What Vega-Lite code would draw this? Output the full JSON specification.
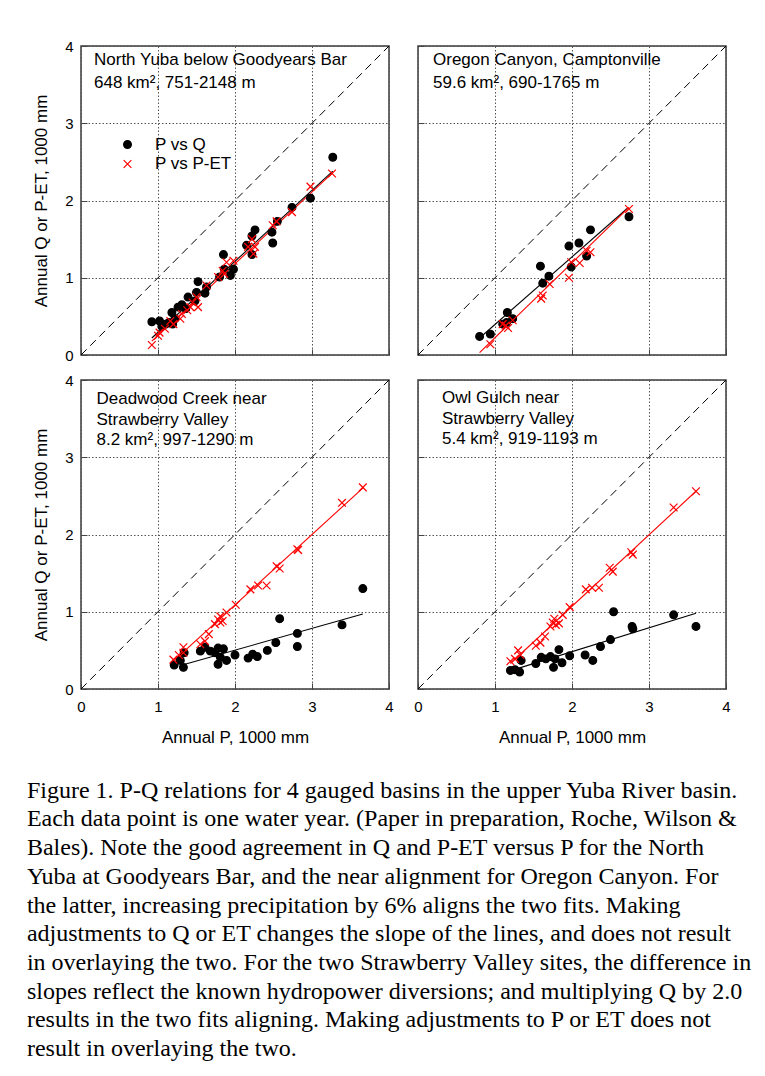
{
  "$schema": "https://vega.github.io/schema/vega-lite/v6.json",
  "background": "white",
  "padding": {"left": 26, "top": 38, "right": 5, "bottom": 0},
  "autosize": {"type": "pad"},
  "datasets": {
    "diag": [{"P": 0, "V": 0}, {"P": 4, "V": 4}],
    "fits": [
      {"site": "NY", "series": "P vs Q", "P": 0.92, "V": 0.22},
      {"site": "NY", "series": "P vs Q", "P": 3.27, "V": 2.38},
      {"site": "NY", "series": "P vs P-ET", "P": 0.92, "V": 0.18},
      {"site": "NY", "series": "P vs P-ET", "P": 3.27, "V": 2.36},
      {"site": "OC", "series": "P vs Q", "P": 0.80, "V": 0.22},
      {"site": "OC", "series": "P vs Q", "P": 2.72, "V": 1.90},
      {"site": "OC", "series": "P vs P-ET", "P": 0.80, "V": 0.03},
      {"site": "OC", "series": "P vs P-ET", "P": 2.74, "V": 1.91},
      {"site": "DC", "series": "P vs Q", "P": 1.35, "V": 0.32},
      {"site": "DC", "series": "P vs Q", "P": 3.66, "V": 0.97},
      {"site": "DC", "series": "P vs P-ET", "P": 1.20, "V": 0.36},
      {"site": "DC", "series": "P vs P-ET", "P": 3.67, "V": 2.61},
      {"site": "OG", "series": "P vs Q", "P": 1.31, "V": 0.27},
      {"site": "OG", "series": "P vs Q", "P": 3.61, "V": 0.98},
      {"site": "OG", "series": "P vs P-ET", "P": 1.20, "V": 0.33},
      {"site": "OG", "series": "P vs P-ET", "P": 3.61, "V": 2.56}
    ],
    "pts": [
      {"site": "NY", "series": "P vs Q", "P": 0.92, "V": 0.43},
      {"site": "NY", "series": "P vs Q", "P": 1.02, "V": 0.44},
      {"site": "NY", "series": "P vs Q", "P": 1.05, "V": 0.37},
      {"site": "NY", "series": "P vs Q", "P": 1.10, "V": 0.40},
      {"site": "NY", "series": "P vs Q", "P": 1.14, "V": 0.42},
      {"site": "NY", "series": "P vs Q", "P": 1.18, "V": 0.55},
      {"site": "NY", "series": "P vs Q", "P": 1.19, "V": 0.40},
      {"site": "NY", "series": "P vs Q", "P": 1.22, "V": 0.47},
      {"site": "NY", "series": "P vs Q", "P": 1.26, "V": 0.62},
      {"site": "NY", "series": "P vs Q", "P": 1.31, "V": 0.65},
      {"site": "NY", "series": "P vs Q", "P": 1.36, "V": 0.60},
      {"site": "NY", "series": "P vs Q", "P": 1.39, "V": 0.75},
      {"site": "NY", "series": "P vs Q", "P": 1.48, "V": 0.70},
      {"site": "NY", "series": "P vs Q", "P": 1.50, "V": 0.81},
      {"site": "NY", "series": "P vs Q", "P": 1.52, "V": 0.95},
      {"site": "NY", "series": "P vs Q", "P": 1.61, "V": 0.80},
      {"site": "NY", "series": "P vs Q", "P": 1.63, "V": 0.88},
      {"site": "NY", "series": "P vs Q", "P": 1.80, "V": 1.01},
      {"site": "NY", "series": "P vs Q", "P": 1.85, "V": 1.30},
      {"site": "NY", "series": "P vs Q", "P": 1.86, "V": 1.11},
      {"site": "NY", "series": "P vs Q", "P": 1.94, "V": 1.03},
      {"site": "NY", "series": "P vs Q", "P": 1.98, "V": 1.11},
      {"site": "NY", "series": "P vs Q", "P": 2.15, "V": 1.42},
      {"site": "NY", "series": "P vs Q", "P": 2.22, "V": 1.54},
      {"site": "NY", "series": "P vs Q", "P": 2.26, "V": 1.62},
      {"site": "NY", "series": "P vs Q", "P": 2.22, "V": 1.30},
      {"site": "NY", "series": "P vs Q", "P": 2.48, "V": 1.59},
      {"site": "NY", "series": "P vs Q", "P": 2.49, "V": 1.45},
      {"site": "NY", "series": "P vs Q", "P": 2.55, "V": 1.73},
      {"site": "NY", "series": "P vs Q", "P": 2.74, "V": 1.91},
      {"site": "NY", "series": "P vs Q", "P": 2.98, "V": 2.03},
      {"site": "NY", "series": "P vs Q", "P": 3.27, "V": 2.56},
      {"site": "NY", "series": "P vs P-ET", "P": 0.92, "V": 0.13},
      {"site": "NY", "series": "P vs P-ET", "P": 1.00, "V": 0.25},
      {"site": "NY", "series": "P vs P-ET", "P": 1.02, "V": 0.29},
      {"site": "NY", "series": "P vs P-ET", "P": 1.09, "V": 0.34},
      {"site": "NY", "series": "P vs P-ET", "P": 1.16, "V": 0.44},
      {"site": "NY", "series": "P vs P-ET", "P": 1.20, "V": 0.40},
      {"site": "NY", "series": "P vs P-ET", "P": 1.29, "V": 0.47},
      {"site": "NY", "series": "P vs P-ET", "P": 1.31, "V": 0.53},
      {"site": "NY", "series": "P vs P-ET", "P": 1.38, "V": 0.58},
      {"site": "NY", "series": "P vs P-ET", "P": 1.42, "V": 0.62},
      {"site": "NY", "series": "P vs P-ET", "P": 1.45, "V": 0.68},
      {"site": "NY", "series": "P vs P-ET", "P": 1.52, "V": 0.62},
      {"site": "NY", "series": "P vs P-ET", "P": 1.50, "V": 0.75},
      {"site": "NY", "series": "P vs P-ET", "P": 1.63, "V": 0.90},
      {"site": "NY", "series": "P vs P-ET", "P": 1.78, "V": 1.01},
      {"site": "NY", "series": "P vs P-ET", "P": 1.84, "V": 1.09},
      {"site": "NY", "series": "P vs P-ET", "P": 1.86, "V": 1.05},
      {"site": "NY", "series": "P vs P-ET", "P": 1.89, "V": 1.20},
      {"site": "NY", "series": "P vs P-ET", "P": 1.98, "V": 1.22},
      {"site": "NY", "series": "P vs P-ET", "P": 2.17, "V": 1.40},
      {"site": "NY", "series": "P vs P-ET", "P": 2.22, "V": 1.50},
      {"site": "NY", "series": "P vs P-ET", "P": 2.24, "V": 1.31},
      {"site": "NY", "series": "P vs P-ET", "P": 2.26, "V": 1.40},
      {"site": "NY", "series": "P vs P-ET", "P": 2.49, "V": 1.68},
      {"site": "NY", "series": "P vs P-ET", "P": 2.54, "V": 1.73},
      {"site": "NY", "series": "P vs P-ET", "P": 2.74, "V": 1.85},
      {"site": "NY", "series": "P vs P-ET", "P": 2.98, "V": 2.18},
      {"site": "NY", "series": "P vs P-ET", "P": 3.26, "V": 2.35},
      {"site": "OC", "series": "P vs Q", "P": 0.80, "V": 0.24},
      {"site": "OC", "series": "P vs Q", "P": 0.94, "V": 0.27},
      {"site": "OC", "series": "P vs Q", "P": 1.10, "V": 0.40},
      {"site": "OC", "series": "P vs Q", "P": 1.15, "V": 0.42},
      {"site": "OC", "series": "P vs Q", "P": 1.16, "V": 0.55},
      {"site": "OC", "series": "P vs Q", "P": 1.23, "V": 0.47},
      {"site": "OC", "series": "P vs Q", "P": 1.59, "V": 1.15},
      {"site": "OC", "series": "P vs Q", "P": 1.62, "V": 0.93},
      {"site": "OC", "series": "P vs Q", "P": 1.70, "V": 1.02},
      {"site": "OC", "series": "P vs Q", "P": 1.96, "V": 1.41},
      {"site": "OC", "series": "P vs Q", "P": 1.99, "V": 1.14},
      {"site": "OC", "series": "P vs Q", "P": 2.09, "V": 1.45},
      {"site": "OC", "series": "P vs Q", "P": 2.19, "V": 1.28},
      {"site": "OC", "series": "P vs Q", "P": 2.24, "V": 1.62},
      {"site": "OC", "series": "P vs Q", "P": 2.74, "V": 1.79},
      {"site": "OC", "series": "P vs P-ET", "P": 0.94, "V": 0.14},
      {"site": "OC", "series": "P vs P-ET", "P": 1.10, "V": 0.40},
      {"site": "OC", "series": "P vs P-ET", "P": 1.14, "V": 0.38},
      {"site": "OC", "series": "P vs P-ET", "P": 1.17, "V": 0.35},
      {"site": "OC", "series": "P vs P-ET", "P": 1.23, "V": 0.45},
      {"site": "OC", "series": "P vs P-ET", "P": 1.60, "V": 0.73},
      {"site": "OC", "series": "P vs P-ET", "P": 1.62, "V": 0.77},
      {"site": "OC", "series": "P vs P-ET", "P": 1.71, "V": 0.92},
      {"site": "OC", "series": "P vs P-ET", "P": 1.96, "V": 1.00},
      {"site": "OC", "series": "P vs P-ET", "P": 1.99, "V": 1.20},
      {"site": "OC", "series": "P vs P-ET", "P": 2.10, "V": 1.19},
      {"site": "OC", "series": "P vs P-ET", "P": 2.19, "V": 1.35},
      {"site": "OC", "series": "P vs P-ET", "P": 2.24, "V": 1.33},
      {"site": "OC", "series": "P vs P-ET", "P": 2.74, "V": 1.89},
      {"site": "DC", "series": "P vs Q", "P": 1.21, "V": 0.31},
      {"site": "DC", "series": "P vs Q", "P": 1.29, "V": 0.37},
      {"site": "DC", "series": "P vs Q", "P": 1.33, "V": 0.28},
      {"site": "DC", "series": "P vs Q", "P": 1.34, "V": 0.47},
      {"site": "DC", "series": "P vs Q", "P": 1.55, "V": 0.49},
      {"site": "DC", "series": "P vs Q", "P": 1.61, "V": 0.54},
      {"site": "DC", "series": "P vs Q", "P": 1.68, "V": 0.49},
      {"site": "DC", "series": "P vs Q", "P": 1.74, "V": 0.47},
      {"site": "DC", "series": "P vs Q", "P": 1.78, "V": 0.53},
      {"site": "DC", "series": "P vs Q", "P": 1.78, "V": 0.32},
      {"site": "DC", "series": "P vs Q", "P": 1.81, "V": 0.41},
      {"site": "DC", "series": "P vs Q", "P": 1.85, "V": 0.52},
      {"site": "DC", "series": "P vs Q", "P": 1.89, "V": 0.37},
      {"site": "DC", "series": "P vs Q", "P": 2.00, "V": 0.44},
      {"site": "DC", "series": "P vs Q", "P": 2.17, "V": 0.40},
      {"site": "DC", "series": "P vs Q", "P": 2.23, "V": 0.45},
      {"site": "DC", "series": "P vs Q", "P": 2.29, "V": 0.42},
      {"site": "DC", "series": "P vs Q", "P": 2.42, "V": 0.50},
      {"site": "DC", "series": "P vs Q", "P": 2.53, "V": 0.60},
      {"site": "DC", "series": "P vs Q", "P": 2.58, "V": 0.91},
      {"site": "DC", "series": "P vs Q", "P": 2.81, "V": 0.72},
      {"site": "DC", "series": "P vs Q", "P": 2.81, "V": 0.55},
      {"site": "DC", "series": "P vs Q", "P": 3.39, "V": 0.83},
      {"site": "DC", "series": "P vs Q", "P": 3.66, "V": 1.30},
      {"site": "DC", "series": "P vs P-ET", "P": 1.20, "V": 0.38},
      {"site": "DC", "series": "P vs P-ET", "P": 1.27, "V": 0.44},
      {"site": "DC", "series": "P vs P-ET", "P": 1.33, "V": 0.54},
      {"site": "DC", "series": "P vs P-ET", "P": 1.33, "V": 0.47},
      {"site": "DC", "series": "P vs P-ET", "P": 1.55, "V": 0.58},
      {"site": "DC", "series": "P vs P-ET", "P": 1.61, "V": 0.62},
      {"site": "DC", "series": "P vs P-ET", "P": 1.66, "V": 0.71},
      {"site": "DC", "series": "P vs P-ET", "P": 1.74, "V": 0.84},
      {"site": "DC", "series": "P vs P-ET", "P": 1.78, "V": 0.90},
      {"site": "DC", "series": "P vs P-ET", "P": 1.81, "V": 0.94},
      {"site": "DC", "series": "P vs P-ET", "P": 1.81, "V": 0.86},
      {"site": "DC", "series": "P vs P-ET", "P": 1.84, "V": 0.88},
      {"site": "DC", "series": "P vs P-ET", "P": 1.89, "V": 0.99},
      {"site": "DC", "series": "P vs P-ET", "P": 2.01, "V": 1.09},
      {"site": "DC", "series": "P vs P-ET", "P": 2.20, "V": 1.29},
      {"site": "DC", "series": "P vs P-ET", "P": 2.30, "V": 1.34},
      {"site": "DC", "series": "P vs P-ET", "P": 2.41, "V": 1.34},
      {"site": "DC", "series": "P vs P-ET", "P": 2.54, "V": 1.59},
      {"site": "DC", "series": "P vs P-ET", "P": 2.58, "V": 1.56},
      {"site": "DC", "series": "P vs P-ET", "P": 2.81, "V": 1.81},
      {"site": "DC", "series": "P vs P-ET", "P": 2.82, "V": 1.80},
      {"site": "DC", "series": "P vs P-ET", "P": 3.39, "V": 2.41},
      {"site": "DC", "series": "P vs P-ET", "P": 3.66, "V": 2.61},
      {"site": "OG", "series": "P vs Q", "P": 1.20, "V": 0.24},
      {"site": "OG", "series": "P vs Q", "P": 1.26, "V": 0.25},
      {"site": "OG", "series": "P vs Q", "P": 1.32, "V": 0.22},
      {"site": "OG", "series": "P vs Q", "P": 1.34, "V": 0.37},
      {"site": "OG", "series": "P vs Q", "P": 1.53, "V": 0.33},
      {"site": "OG", "series": "P vs Q", "P": 1.60, "V": 0.41},
      {"site": "OG", "series": "P vs Q", "P": 1.66, "V": 0.39},
      {"site": "OG", "series": "P vs Q", "P": 1.72, "V": 0.42},
      {"site": "OG", "series": "P vs Q", "P": 1.76, "V": 0.28},
      {"site": "OG", "series": "P vs Q", "P": 1.78, "V": 0.39},
      {"site": "OG", "series": "P vs Q", "P": 1.83, "V": 0.51},
      {"site": "OG", "series": "P vs Q", "P": 1.87, "V": 0.34},
      {"site": "OG", "series": "P vs Q", "P": 1.97, "V": 0.43},
      {"site": "OG", "series": "P vs Q", "P": 2.17, "V": 0.44},
      {"site": "OG", "series": "P vs Q", "P": 2.27, "V": 0.37},
      {"site": "OG", "series": "P vs Q", "P": 2.37, "V": 0.55},
      {"site": "OG", "series": "P vs Q", "P": 2.50, "V": 0.64},
      {"site": "OG", "series": "P vs Q", "P": 2.54, "V": 1.00},
      {"site": "OG", "series": "P vs Q", "P": 2.78, "V": 0.81},
      {"site": "OG", "series": "P vs Q", "P": 2.79, "V": 0.78},
      {"site": "OG", "series": "P vs Q", "P": 3.32, "V": 0.96},
      {"site": "OG", "series": "P vs Q", "P": 3.61, "V": 0.81},
      {"site": "OG", "series": "P vs P-ET", "P": 1.20, "V": 0.36},
      {"site": "OG", "series": "P vs P-ET", "P": 1.26, "V": 0.39},
      {"site": "OG", "series": "P vs P-ET", "P": 1.30, "V": 0.50},
      {"site": "OG", "series": "P vs P-ET", "P": 1.33, "V": 0.44},
      {"site": "OG", "series": "P vs P-ET", "P": 1.53, "V": 0.56},
      {"site": "OG", "series": "P vs P-ET", "P": 1.59, "V": 0.60},
      {"site": "OG", "series": "P vs P-ET", "P": 1.65, "V": 0.68},
      {"site": "OG", "series": "P vs P-ET", "P": 1.72, "V": 0.81},
      {"site": "OG", "series": "P vs P-ET", "P": 1.75, "V": 0.86},
      {"site": "OG", "series": "P vs P-ET", "P": 1.77, "V": 0.91},
      {"site": "OG", "series": "P vs P-ET", "P": 1.79, "V": 0.83},
      {"site": "OG", "series": "P vs P-ET", "P": 1.83, "V": 0.85},
      {"site": "OG", "series": "P vs P-ET", "P": 1.88, "V": 0.96},
      {"site": "OG", "series": "P vs P-ET", "P": 1.97, "V": 1.06},
      {"site": "OG", "series": "P vs P-ET", "P": 2.18, "V": 1.29},
      {"site": "OG", "series": "P vs P-ET", "P": 2.26, "V": 1.31},
      {"site": "OG", "series": "P vs P-ET", "P": 2.35, "V": 1.31},
      {"site": "OG", "series": "P vs P-ET", "P": 2.49, "V": 1.57},
      {"site": "OG", "series": "P vs P-ET", "P": 2.53, "V": 1.52},
      {"site": "OG", "series": "P vs P-ET", "P": 2.77, "V": 1.77},
      {"site": "OG", "series": "P vs P-ET", "P": 2.79, "V": 1.74},
      {"site": "OG", "series": "P vs P-ET", "P": 3.32, "V": 2.35},
      {"site": "OG", "series": "P vs P-ET", "P": 3.61, "V": 2.56}
    ]
  },
  "title": {
    "text": [
      "Figure 1. P-Q relations for 4 gauged basins in the upper Yuba River basin.",
      "Each data point is one water year. (Paper in preparation, Roche, Wilson &",
      "Bales). Note the good agreement in Q and P-ET versus P for the North",
      "Yuba at Goodyears Bar, and the near alignment for Oregon Canyon. For",
      "the latter, increasing precipitation by 6% aligns the two fits. Making",
      "adjustments to Q or ET changes the slope of the lines, and does not result",
      "in overlaying the two. For the two Strawberry Valley sites, the difference in",
      "slopes reflect the known hydropower diversions; and multiplying Q by 2.0",
      "results in the two fits aligning. Making adjustments to P or ET does not",
      "result in overlaying the two."
    ],
    "orient": "bottom",
    "anchor": "start",
    "frame": "bounds",
    "offset": 33,
    "dx": -5,
    "baseline": "top",
    "font": "Liberation Serif",
    "fontSize": 24,
    "fontWeight": "normal",
    "lineHeight": 28.7,
    "color": "black",
    "limit": 0
  },
  "columns": 2,
  "spacing": {"row": 25, "column": 29},
  "bounds": "flush",
  "resolve": {
    "scale": {"fill": "independent", "stroke": "independent", "shape": "independent"},
    "legend": {"fill": "independent", "stroke": "independent", "shape": "independent"}
  },
  "concat": [
    {
      "width": 308, "height": 309,
      "title": {"text": ["North Yuba below Goodyears Bar", "648 km², 751-2148 m"], "dx": 13, "offset": -53, "lineHeight": 22.7},
      "encoding": {
        "x": {"field": "P", "type": "quantitative", "scale": {"domain": [0, 4], "nice": false}, "axis": {"values": [0, 1, 2, 3, 4], "labels": false, "title": null}},
        "y": {"field": "V", "type": "quantitative", "scale": {"domain": [0, 4], "nice": false}, "axis": {"values": [0, 1, 2, 3, 4], "title": "Annual Q or P-ET, 1000 mm"}}
      },
      "layer": [
        {"data": {"name": "diag"}, "mark": {"type": "line", "color": "black", "strokeWidth": 1, "strokeDash": [8, 5]}, "encoding": {}},
        {"data": {"name": "fits"}, "transform": [{"filter": "datum.site === 'NY' && datum.series === 'P vs Q'"}], "mark": {"type": "line", "color": "black", "strokeWidth": 1.1}, "encoding": {}},
        {"data": {"name": "fits"}, "transform": [{"filter": "datum.site === 'NY' && datum.series === 'P vs P-ET'"}], "mark": {"type": "line", "color": "red", "strokeWidth": 1.1}, "encoding": {}},
        {"data": {"name": "pts"}, "transform": [{"filter": "datum.site === 'NY'"}], "mark": {"type": "point", "filled": true, "opacity": 1, "size": 60, "strokeWidth": 1.2},
         "encoding": {
           "fill": {"field": "series", "type": "nominal", "scale": {"domain": ["P vs Q", "P vs P-ET"], "range": ["black", "red"]},
                    "legend": {"orient": "none", "legendX": 38, "legendY": 90, "title": null, "padding": 0, "labelFontSize": 17, "labelColor": "black", "symbolSize": 60, "symbolStrokeWidth": 1.2, "labelOffset": 19, "rowPadding": 1.5}},
           "stroke": {"field": "series", "type": "nominal", "scale": {"domain": ["P vs Q", "P vs P-ET"], "range": ["black", "red"]},
                    "legend": {"orient": "none", "legendX": 38, "legendY": 90, "title": null, "padding": 0, "labelFontSize": 17, "labelColor": "black", "symbolSize": 60, "symbolStrokeWidth": 1.2, "labelOffset": 19, "rowPadding": 1.5}},
           "shape": {"field": "series", "type": "nominal", "scale": {"domain": ["P vs Q", "P vs P-ET"], "range": ["circle", "M-1,-1L1,1M1,-1L-1,1"]},
                    "legend": {"orient": "none", "legendX": 38, "legendY": 90, "title": null, "padding": 0, "labelFontSize": 17, "labelColor": "black", "symbolSize": 60, "symbolStrokeWidth": 1.2, "labelOffset": 19, "rowPadding": 1.5}}
         }}
      ]
    },
    {
      "width": 308, "height": 309,
      "title": {"text": ["Oregon Canyon, Camptonville", "59.6 km², 690-1765 m"], "dx": 15, "offset": -48, "lineHeight": 22.7},
      "encoding": {
        "x": {"field": "P", "type": "quantitative", "scale": {"domain": [0, 4], "nice": false}, "axis": {"values": [0, 1, 2, 3, 4], "labels": false, "title": null}},
        "y": {"field": "V", "type": "quantitative", "scale": {"domain": [0, 4], "nice": false}, "axis": {"values": [0, 1, 2, 3, 4], "labels": false, "title": null}}
      },
      "layer": [
        {"data": {"name": "diag"}, "mark": {"type": "line", "color": "black", "strokeWidth": 1, "strokeDash": [8, 5]}, "encoding": {}},
        {"data": {"name": "fits"}, "transform": [{"filter": "datum.site === 'OC' && datum.series === 'P vs Q'"}], "mark": {"type": "line", "color": "black", "strokeWidth": 1.1}, "encoding": {}},
        {"data": {"name": "fits"}, "transform": [{"filter": "datum.site === 'OC' && datum.series === 'P vs P-ET'"}], "mark": {"type": "line", "color": "red", "strokeWidth": 1.1}, "encoding": {}},
        {"data": {"name": "pts"}, "transform": [{"filter": "datum.site === 'OC'"}], "mark": {"type": "point", "filled": true, "opacity": 1, "size": 60, "strokeWidth": 1.2},
         "encoding": {
           "fill": {"field": "series", "type": "nominal", "scale": {"domain": ["P vs Q", "P vs P-ET"], "range": ["black", "red"]}, "legend": null},
           "stroke": {"field": "series", "type": "nominal", "scale": {"domain": ["P vs Q", "P vs P-ET"], "range": ["black", "red"]}, "legend": null},
           "shape": {"field": "series", "type": "nominal", "scale": {"domain": ["P vs Q", "P vs P-ET"], "range": ["circle", "M-1,-1L1,1M1,-1L-1,1"]}, "legend": null}
         }}
      ]
    },
    {
      "width": 308, "height": 309,
      "title": {"text": ["Deadwood Creek near", "Strawberry Valley", "8.2 km², 997-1290 m"], "dx": 15.5, "offset": -76, "lineHeight": 20.5},
      "encoding": {
        "x": {"field": "P", "type": "quantitative", "scale": {"domain": [0, 4], "nice": false}, "axis": {"values": [0, 1, 2, 3, 4], "title": "Annual P, 1000 mm", "labelPadding": 16, "titlePadding": 15}},
        "y": {"field": "V", "type": "quantitative", "scale": {"domain": [0, 4], "nice": false}, "axis": {"values": [0, 1, 2, 3, 4], "title": "Annual Q or P-ET, 1000 mm"}}
      },
      "layer": [
        {"data": {"name": "diag"}, "mark": {"type": "line", "color": "black", "strokeWidth": 1, "strokeDash": [8, 5]}, "encoding": {}},
        {"data": {"name": "fits"}, "transform": [{"filter": "datum.site === 'DC' && datum.series === 'P vs Q'"}], "mark": {"type": "line", "color": "black", "strokeWidth": 1.1}, "encoding": {}},
        {"data": {"name": "fits"}, "transform": [{"filter": "datum.site === 'DC' && datum.series === 'P vs P-ET'"}], "mark": {"type": "line", "color": "red", "strokeWidth": 1.1}, "encoding": {}},
        {"data": {"name": "pts"}, "transform": [{"filter": "datum.site === 'DC'"}], "mark": {"type": "point", "filled": true, "opacity": 1, "size": 60, "strokeWidth": 1.2},
         "encoding": {
           "fill": {"field": "series", "type": "nominal", "scale": {"domain": ["P vs Q", "P vs P-ET"], "range": ["black", "red"]}, "legend": null},
           "stroke": {"field": "series", "type": "nominal", "scale": {"domain": ["P vs Q", "P vs P-ET"], "range": ["black", "red"]}, "legend": null},
           "shape": {"field": "series", "type": "nominal", "scale": {"domain": ["P vs Q", "P vs P-ET"], "range": ["circle", "M-1,-1L1,1M1,-1L-1,1"]}, "legend": null}
         }}
      ]
    },
    {
      "width": 308, "height": 309,
      "title": {"text": ["Owl Gulch near", "Strawberry Valley", "5.4 km², 919-1193 m"], "dx": 24, "offset": -70, "lineHeight": 20.5},
      "encoding": {
        "x": {"field": "P", "type": "quantitative", "scale": {"domain": [0, 4], "nice": false}, "axis": {"values": [0, 1, 2, 3, 4], "title": "Annual P, 1000 mm", "labelPadding": 16, "titlePadding": 15}},
        "y": {"field": "V", "type": "quantitative", "scale": {"domain": [0, 4], "nice": false}, "axis": {"values": [0, 1, 2, 3, 4], "labels": false, "title": null}}
      },
      "layer": [
        {"data": {"name": "diag"}, "mark": {"type": "line", "color": "black", "strokeWidth": 1, "strokeDash": [8, 5]}, "encoding": {}},
        {"data": {"name": "fits"}, "transform": [{"filter": "datum.site === 'OG' && datum.series === 'P vs Q'"}], "mark": {"type": "line", "color": "black", "strokeWidth": 1.1}, "encoding": {}},
        {"data": {"name": "fits"}, "transform": [{"filter": "datum.site === 'OG' && datum.series === 'P vs P-ET'"}], "mark": {"type": "line", "color": "red", "strokeWidth": 1.1}, "encoding": {}},
        {"data": {"name": "pts"}, "transform": [{"filter": "datum.site === 'OG'"}], "mark": {"type": "point", "filled": true, "opacity": 1, "size": 60, "strokeWidth": 1.2},
         "encoding": {
           "fill": {"field": "series", "type": "nominal", "scale": {"domain": ["P vs Q", "P vs P-ET"], "range": ["black", "red"]}, "legend": null},
           "stroke": {"field": "series", "type": "nominal", "scale": {"domain": ["P vs Q", "P vs P-ET"], "range": ["black", "red"]}, "legend": null},
           "shape": {"field": "series", "type": "nominal", "scale": {"domain": ["P vs Q", "P vs P-ET"], "range": ["circle", "M-1,-1L1,1M1,-1L-1,1"]}, "legend": null}
         }}
      ]
    }
  ],
  "config": {
    "font": "Liberation Sans",
    "view": {"stroke": "#3a3a3a", "strokeWidth": 1.5},
    "axis": {
      "labelFont": "Liberation Sans", "labelFontSize": 15, "labelColor": "black", "labelFlush": false,
      "titleFont": "Liberation Sans", "titleFontSize": 17, "titleFontWeight": "normal", "titleColor": "black",
      "grid": true, "gridColor": "#555555", "gridDash": [1.5, 2], "gridWidth": 1,
      "domain": false, "ticks": true, "tickSize": -6, "tickColor": "#444444", "tickWidth": 1,
      "labelPadding": 14, "titlePadding": 14
    },
    "legend": {
      "labelFont": "Liberation Sans", "labelFontSize": 17, "labelColor": "black"
    },
    "title": {
      "orient": "top", "anchor": "start", "frame": "group", "baseline": "top", "align": "left",
      "font": "Liberation Sans", "fontSize": 17, "fontWeight": "normal", "color": "black"
    }
  }
}
